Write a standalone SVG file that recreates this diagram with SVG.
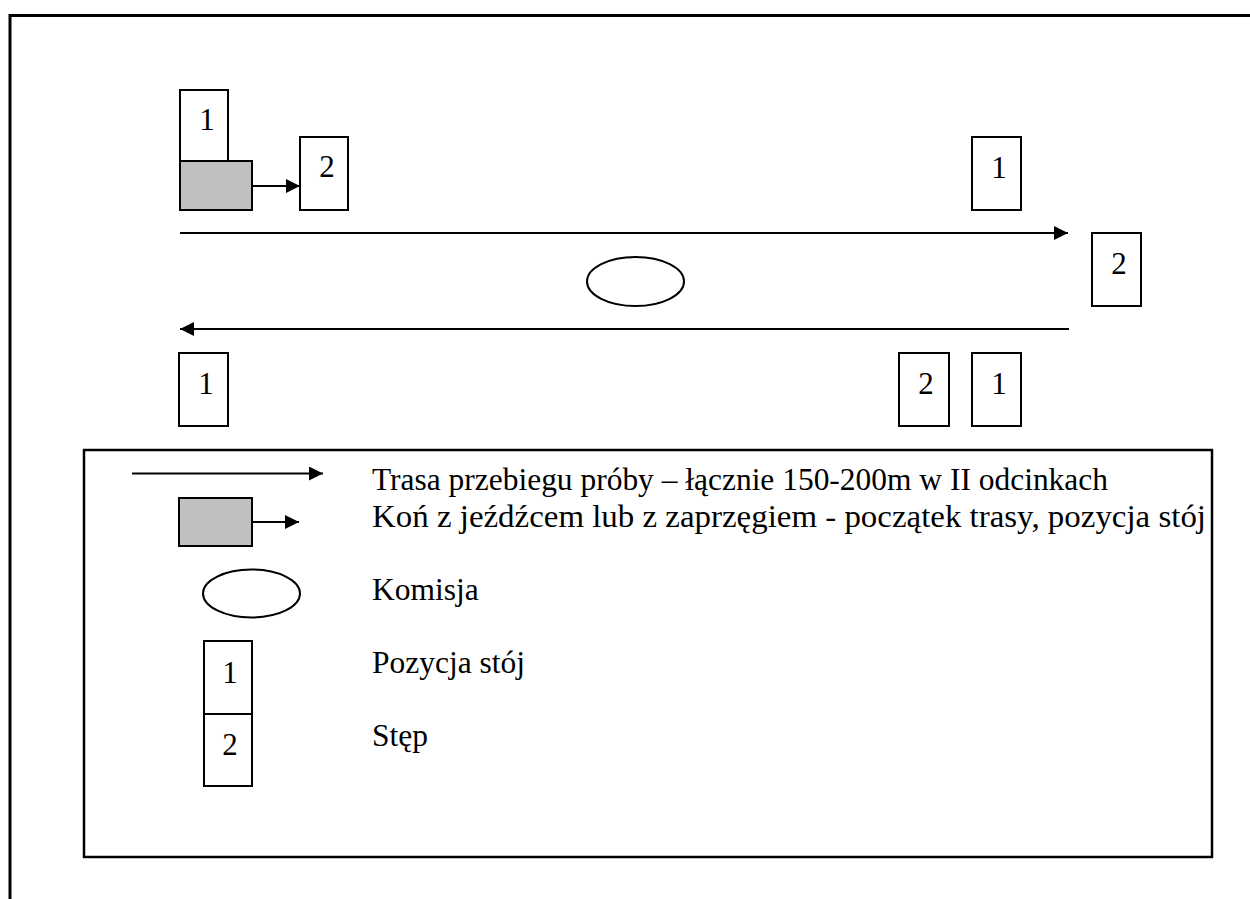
<svg xmlns="http://www.w3.org/2000/svg" width="1250" height="899" viewBox="0 0 1250 899">
<style>
.box{fill:#fff;stroke:#000;stroke-width:2}
.gray{fill:#c0c0c0;stroke:#000;stroke-width:2}
.ell{fill:#fff;stroke:#000;stroke-width:2}
.ln{fill:none;stroke:#000;stroke-width:2}
.num{font-family:"Liberation Serif","Times New Roman",serif;font-size:31px;fill:#000;text-anchor:middle}
.lbl{font-family:"Liberation Serif","Times New Roman",serif;font-size:31.5px;fill:#000}
</style>
<defs>
<marker id="ah" viewBox="0 0 10 10" refX="10" refY="5" markerWidth="17" markerHeight="14" markerUnits="userSpaceOnUse" orient="auto">
<path d="M0,0 L10,5 L0,10 Z" fill="#000"/>
</marker>
</defs>
<rect width="1250" height="899" fill="#fff"/>
<path d="M10,899 V15.5 H1250" fill="none" stroke="#000" stroke-width="3"/>

<g id="start-1"><rect class="box" x="180" y="90" width="48" height="71"/><text class="num" x="207" y="130">1</text></g>
<g id="horse"><rect class="gray" x="180" y="161" width="72" height="49"/></g>
<g id="start-2"><rect class="box" x="300" y="137" width="48" height="73"/><text class="num" x="327" y="177">2</text></g>
<g id="top-right-1"><rect class="box" x="972" y="137" width="49" height="73"/><text class="num" x="999" y="178">1</text></g>
<g id="turn-2"><rect class="box" x="1092" y="233" width="49" height="73"/><text class="num" x="1119" y="274">2</text></g>
<g id="commission"><ellipse class="ell" cx="635.5" cy="281.5" rx="48.5" ry="24.5"/></g>
<g id="bottom-left-1"><rect class="box" x="179" y="353" width="49" height="73"/><text class="num" x="206" y="394">1</text></g>
<g id="bottom-2"><rect class="box" x="899" y="353" width="50" height="73"/><text class="num" x="926" y="394">2</text></g>
<g id="bottom-1"><rect class="box" x="972" y="353" width="49" height="73"/><text class="num" x="999" y="394">1</text></g>

<g id="connectors">
<line class="ln" x1="252" y1="186" x2="300" y2="186" marker-end="url(#ah)"/>
<line class="ln" x1="180" y1="233" x2="1068" y2="233" marker-end="url(#ah)"/>
<line class="ln" x1="1069" y1="329" x2="180" y2="329" marker-end="url(#ah)"/>
</g>

<g id="legend">
<rect x="84" y="450" width="1128" height="407" fill="#fff" stroke="#000" stroke-width="2.5"/>
<line class="ln" x1="132" y1="473.5" x2="323" y2="473.5" marker-end="url(#ah)"/>
<rect class="gray" x="179" y="498" width="73" height="48"/>
<line class="ln" x1="252" y1="522" x2="299" y2="522" marker-end="url(#ah)"/>
<ellipse class="ell" cx="251.5" cy="593.5" rx="48.5" ry="24"/>
<rect class="box" x="204" y="641" width="48" height="73"/>
<text class="num" x="230" y="683">1</text>
<rect class="box" x="204" y="714" width="48" height="72"/>
<text class="num" x="230" y="755">2</text>
<text class="lbl" x="372" y="490" textLength="736" lengthAdjust="spacingAndGlyphs">Trasa przebiegu próby – łącznie 150-200m w II odcinkach</text>
<text class="lbl" x="372" y="527" textLength="834" lengthAdjust="spacingAndGlyphs">Koń z jeźdźcem lub z zaprzęgiem - początek trasy, pozycja stój</text>
<text class="lbl" x="372" y="600">Komisja</text>
<text class="lbl" x="372" y="673">Pozycja stój</text>
<text class="lbl" x="372" y="746">Stęp</text>
</g>
</svg>
